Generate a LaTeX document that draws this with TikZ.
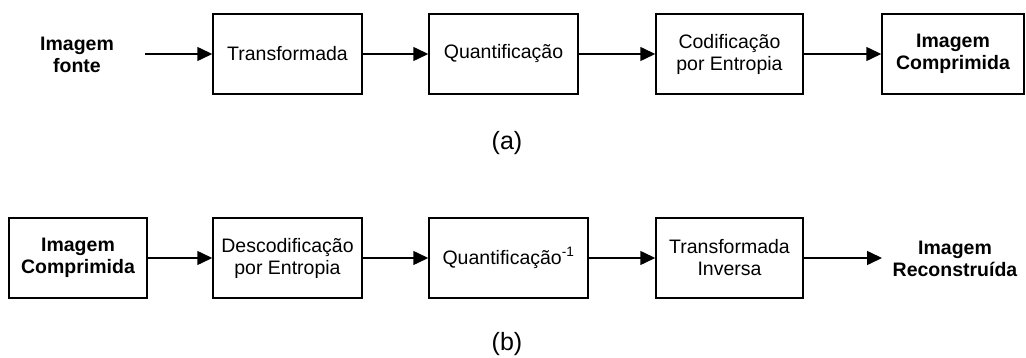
\documentclass[tikz,border=0pt]{standalone}
\usepackage{fontspec}
\setmainfont{Liberation Sans}
\usetikzlibrary{arrows.meta}
\begin{document}
\begin{tikzpicture}[x=1pt,y=-1pt,
  txt/.style={font=\fontsize{19.5}{22}\selectfont,align=center,inner sep=0pt},
  box/.style={txt,draw,line width=1.5pt,minimum height=80pt},
  bold/.style={txt,font=\fontsize{19.5}{22}\selectfont\bfseries},
  conn/.style={line width=1.5pt,-{Triangle[length=15pt,width=14pt]}},
  sublabel/.style={font=\fontsize{25}{28}\selectfont,inner sep=0pt}
]
\useasboundingbox (0,0) rectangle (1026,358);
% row (a)
\node[bold] (ain) at (77,55) {Imagem\\fonte};
\coordinate (ainr) at (145,54);
\node[box,minimum width=149pt] (a1) at (287.5,54) {Transformada};
\node[box,minimum width=149pt] (a2) at (503.5,54) {Quantificação};
\node[box,minimum width=147pt] (a3) at (729.5,54) {Codificação\\por Entropia};
\node[box,minimum width=142pt,font=\fontsize{19.5}{22}\selectfont\bfseries] (a4) at (953,54) {Imagem\\Comprimida};
\draw[conn] (ainr) -- (a1);
\draw[conn] (a1) -- (a2);
\draw[conn] (a2) -- (a3);
\draw[conn] (a3) -- (a4);
\node[sublabel] (la) at (507,143) {(a)};
% row (b)
\node[box,minimum width=138pt,font=\fontsize{19.5}{22}\selectfont\bfseries] (b1) at (78,258) {Imagem\\Comprimida};
\node[box,minimum width=149pt] (b2) at (287.5,258) {Descodificação\\por Entropia};
\node[box,minimum width=159pt] (b3) at (508.5,258) {Quantificação\textsuperscript{-1}};
\node[box,minimum width=147pt] (b4) at (729.5,258) {Transformada\\Inversa};
\coordinate (bout) at (882,258);
\node[bold] (bo) at (955,259) {Imagem\\Reconstruída};
\draw[conn] (b1) -- (b2);
\draw[conn] (b2) -- (b3);
\draw[conn] (b3) -- (b4);
\draw[conn] (b4) -- (bout);
\node[sublabel] (lb) at (507,344) {(b)};
\end{tikzpicture}
\end{document}
